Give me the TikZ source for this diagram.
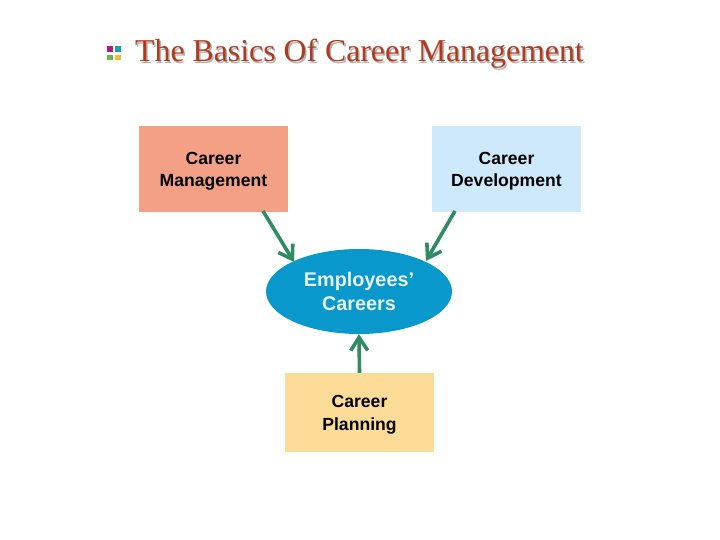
\documentclass[tikz,border=0pt]{standalone}
\usepackage{fontspec}
\setmainfont{Liberation Serif}
\newfontfamily\arialfont{Liberation Sans}
\usetikzlibrary{arrows.meta,shapes.geometric}
\definecolor{salmon}{HTML}{F4A085}
\definecolor{lightblue}{HTML}{CDE9FB}
\definecolor{lightyellow}{HTML}{FDDC98}
\definecolor{ellblue}{HTML}{0998CC}
\definecolor{arrowgreen}{HTML}{2E8B62}
\definecolor{titlered}{HTML}{B23A1C}
\definecolor{sqmag}{HTML}{B0197F}
\definecolor{sqteal}{HTML}{1A9FBF}
\definecolor{sqgreen}{HTML}{6BB84F}
\definecolor{sqyellow}{HTML}{E8C13A}
\definecolor{elltext}{HTML}{E6F6FF}
\newcommand{\twolines}[3]{\begin{tabular}{@{}c@{}}\rule{0pt}{#1}#2\\#3\end{tabular}}
\tikzset{
  boxnode/.style={draw=none, minimum width=149pt, inner sep=0pt,
    font=\arialfont\bfseries\fontsize{17.6}{22.5}\selectfont, text=black},
  link/.style={draw=arrowgreen, line width=3.6pt,
    -{Straight Barb[length=13pt,width=17pt,line width=3.6pt]}},
  sq/.style={minimum size=5.6pt, inner sep=0pt, draw=none}
}
\begin{document}
\begin{tikzpicture}[x=1pt,y=-1pt]
\useasboundingbox (0,0) rectangle (720,540);
% icon
\node[sq, fill=sqmag]    (s1) at (109.8,48.8) {};
\node[sq, fill=sqteal]   (s2) at (117.8,48.8) {};
\node[sq, fill=sqgreen]  (s3) at (109.8,57.6) {};
\node[sq, fill=sqyellow] (s4) at (117.8,57.6) {};
% title with shadow
\node[anchor=base west, inner sep=0pt, text=black!30, font=\fontsize{31.8}{36}\selectfont] (titleshadow) at (136.5,63.5) {The Basics Of Career Management};
\node[anchor=base west, inner sep=0pt, text=titlered, font=\fontsize{31.8}{36}\selectfont] (title) at (135,62) {The Basics Of Career Management};
% boxes
\node[boxnode, fill=salmon, minimum height=86pt] (cm) at (213.5,169) {\twolines{19.8pt}{Career}{Management}};
\node[boxnode, fill=lightblue, minimum height=86pt] (cd) at (506.5,169) {\twolines{19.8pt}{Career}{Development}};
\node[boxnode, fill=lightyellow, minimum height=79pt] (cp) at (359.5,412.5) {\twolines{19.8pt}{Career}{Planning}};
% ellipse
\node[ellipse, fill=ellblue, minimum width=186pt, minimum height=85pt, inner sep=0pt, align=center,
  text=elltext, font=\arialfont\bfseries\fontsize{19.8}{23.5}\selectfont] (ec) at (359,291.5) {Employees’\\Careers};
% connector end points
\coordinate (a1) at (263,211);
\coordinate (t1) at (294,262);
\coordinate (a2) at (455,211);
\coordinate (t2) at (426,261);
\draw[link] (a1) -- (t1);
\draw[link] (a2) -- (t2);
\draw[link] (cp.north) -- (ec.south);
\end{tikzpicture}
\end{document}
